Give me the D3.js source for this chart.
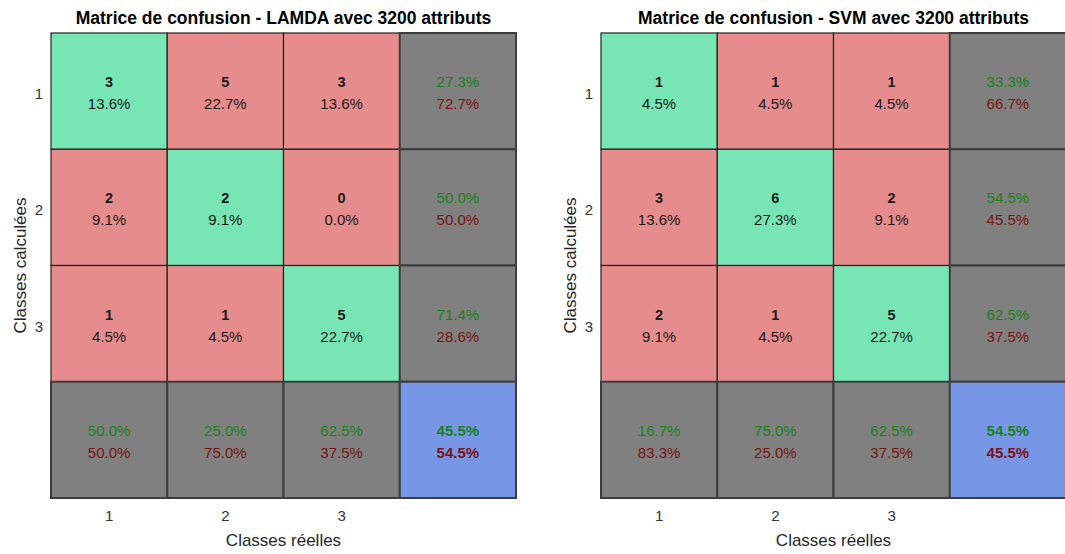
<!DOCTYPE html>
<html>
<head>
<meta charset="utf-8">
<script src="https://cdn.jsdelivr.net/npm/d3@7"></script>
<style>
  html, body { margin: 0; padding: 0; background: #fff; }
  svg { display: block; font-family: "Liberation Sans", Arial, Helvetica, sans-serif; }
</style>
</head>
<body>
<svg id="chart" width="1065" height="554"></svg>
<script>
// Class labels (rows = predicted, columns = actual)
const classes = ["1", "2", "3"];

// Confusion counts: row = classe calculée, column = classe réelle
const lamdaCounts = [
  [3, 5, 3],
  [2, 2, 0],
  [1, 1, 5]
];
const svmCounts = [
  [1, 1, 1],
  [3, 6, 2],
  [2, 1, 5]
];

const titles = [
  "Matrice de confusion - LAMDA avec 3200 attributs",
  "Matrice de confusion - SVM avec 3200 attributs"
];
const xAxisLabel = "Classes réelles";
const yAxisLabel = "Classes calculées";

// Cell palette
const COL_OK = "#78E6B4";
const COL_ERR = "#E68C8C";
const COL_SUM = "#808080";
const COL_ALL = "#7896E6";
const TXT_OK = "#1A801A";
const TXT_ERR = "#781414";

const svg = d3.select("#chart");
svg.append("rect").attr("width", 1065).attr("height", 554).attr("fill", "#fff");

const fmt = v => (v * 100).toFixed(1) + "%";

function drawPanel(counts, title, left) {
  const size = 465, top = 33;
  const keys = [...classes, "total"];
  const x = d3.scaleBand().domain(keys).range([left, left + size]);
  const y = d3.scaleBand().domain(keys).range([top, top + size]);
  const g = svg.append("g");
  const total = d3.sum(counts.flat());

  // Main cells
  const cells = [];
  classes.forEach((r, i) => classes.forEach((c, j) => {
    cells.push({ r, c, v: counts[i][j], diag: i === j });
  }));
  const cg = g.selectAll("g.cell").data(cells).join("g").attr("class", "cell");
  cg.append("rect")
    .attr("x", d => x(d.c)).attr("y", d => y(d.r))
    .attr("width", x.bandwidth()).attr("height", y.bandwidth())
    .attr("fill", d => d.diag ? COL_OK : COL_ERR)
    .attr("stroke", "#222").attr("stroke-width", 1.2);
  cg.append("text")
    .attr("x", d => x(d.c) + x.bandwidth() / 2)
    .attr("y", d => y(d.r) + y.bandwidth() / 2 - 4)
    .attr("text-anchor", "middle").attr("font-size", 14.5).attr("font-weight", "bold")
    .attr("fill", "#1a1a1a")
    .text(d => d.v);
  cg.append("text")
    .attr("x", d => x(d.c) + x.bandwidth() / 2)
    .attr("y", d => y(d.r) + y.bandwidth() / 2 + 18)
    .attr("text-anchor", "middle").attr("font-size", 15)
    .attr("fill", "#1a1a1a")
    .text(d => fmt(d.v / total));

  // Summary cells: rows (precision), columns (recall), overall
  const sums = [];
  classes.forEach((r, i) => {
    const rowTot = d3.sum(counts[i]);
    const p = counts[i][i] / rowTot;
    sums.push({ cx: "total", cy: r, ok: p, fill: COL_SUM, bold: false });
  });
  classes.forEach((c, j) => {
    const colTot = d3.sum(counts, row => row[j]);
    const p = counts[j][j] / colTot;
    sums.push({ cx: c, cy: "total", ok: p, fill: COL_SUM, bold: false });
  });
  const correct = d3.sum(classes, (_, i) => counts[i][i]);
  sums.push({ cx: "total", cy: "total", ok: correct / total, fill: COL_ALL, bold: true });

  const sg = g.selectAll("g.sum").data(sums).join("g").attr("class", "sum");
  sg.append("rect")
    .attr("x", d => x(d.cx)).attr("y", d => y(d.cy))
    .attr("width", x.bandwidth()).attr("height", y.bandwidth())
    .attr("fill", d => d.fill)
    .attr("stroke", "#3c3c3c").attr("stroke-width", 2);
  sg.append("text")
    .attr("x", d => x(d.cx) + x.bandwidth() / 2)
    .attr("y", d => y(d.cy) + y.bandwidth() / 2 - 4)
    .attr("text-anchor", "middle").attr("font-size", 15)
    .attr("font-weight", d => d.bold ? "bold" : "normal")
    .attr("fill", TXT_OK)
    .text(d => fmt(d.ok));
  sg.append("text")
    .attr("x", d => x(d.cx) + x.bandwidth() / 2)
    .attr("y", d => y(d.cy) + y.bandwidth() / 2 + 18)
    .attr("text-anchor", "middle").attr("font-size", 15)
    .attr("font-weight", d => d.bold ? "bold" : "normal")
    .attr("fill", TXT_ERR)
    .text(d => fmt(1 - d.ok));

  // Tick labels
  g.selectAll("text.xt").data(classes).join("text").attr("class", "xt")
    .attr("x", d => x(d) + x.bandwidth() / 2).attr("y", top + size + 23)
    .attr("text-anchor", "middle").attr("font-size", 15).attr("fill", "#333")
    .text(d => d);
  g.selectAll("text.yt").data(classes).join("text").attr("class", "yt")
    .attr("x", left - 8).attr("y", d => y(d) + y.bandwidth() / 2 + 8)
    .attr("text-anchor", "end").attr("font-size", 15).attr("fill", "#333")
    .text(d => d);

  // Title and axis labels
  g.append("text")
    .attr("x", left + size / 2).attr("y", 24)
    .attr("text-anchor", "middle").attr("font-size", 17.5).attr("font-weight", "bold")
    .attr("fill", "#000")
    .text(title);
  g.append("text")
    .attr("x", left + size / 2).attr("y", 546)
    .attr("text-anchor", "middle").attr("font-size", 17).attr("fill", "#262626")
    .text(xAxisLabel);
  g.append("text")
    .attr("transform", `translate(${left - 25},${top + size / 2}) rotate(-90)`)
    .attr("text-anchor", "middle").attr("font-size", 17).attr("fill", "#262626")
    .text(yAxisLabel);
}

drawPanel(lamdaCounts, titles[0], 51);
drawPanel(svmCounts, titles[1], 601);
</script>
</body>
</html>
